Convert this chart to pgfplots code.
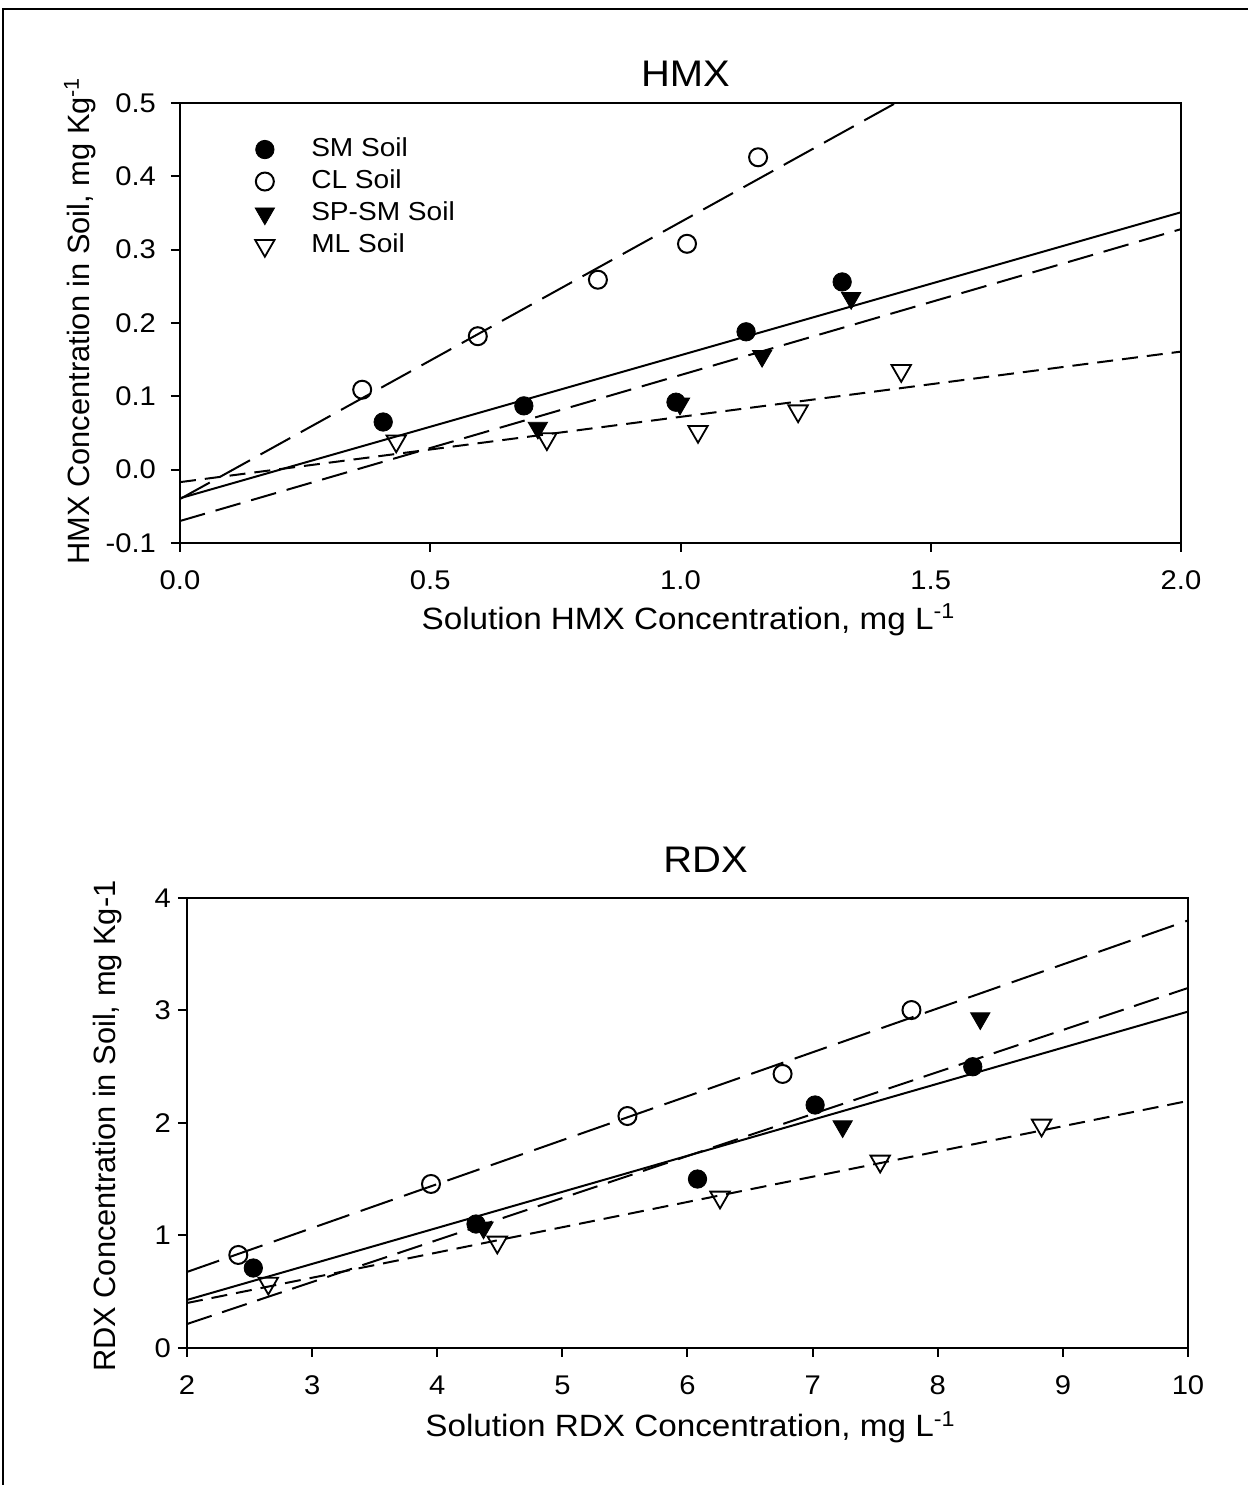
\documentclass[border=0pt]{standalone}
\usepackage{fontspec}
\setmainfont[FakeStretch=1.08]{Liberation Sans}
\newfontfamily\yfont{Liberation Sans}
\usepackage{pgfplots}
\pgfplotsset{compat=1.18}

\pgfplotsset{
  base/.style={
    scale only axis,
    width=500.5pt,
    axis line style={line width=1pt},
    tick style={line width=1pt,black},
    tick align=outside,
    major tick length=4.5pt,
    xtick pos=bottom, ytick pos=left,
    /pgf/number format/assume math mode=true,
    ticklabel style={font=\fontsize{13.5}{16}\selectfont},
    xlabel style={font=\fontsize{15.4}{18}\selectfont, anchor=center},
    ylabel style={font=\yfont\fontsize{15.4}{18}\selectfont, anchor=center},
    title style={font=\fontsize{18.5}{21}\selectfont, anchor=center},
    clip=true,
  },
  smline/.style={black, line width=1pt, forget plot},
  clline/.style={black, line width=1pt, dash pattern=on 17pt off 6pt, forget plot},
  spline/.style={black, line width=1pt, dash pattern=on 13pt off 5.5pt, forget plot},
  mlline/.style={black, line width=1pt, dash pattern=on 8pt off 4.5pt, forget plot},
  smm/.style={only marks, mark=*, mark size=4.6pt, mark options={fill=black, draw=black}},
  clm/.style={only marks, mark=o, mark size=4.5pt, mark options={fill=white, draw=black, line width=1pt}},
  spm/.style={only marks, mark=triangle*, mark size=5.6pt, mark options={fill=black, draw=black, rotate=180}},
  mlm/.style={only marks, mark=triangle, mark size=5.6pt, mark options={fill=white, draw=black, line width=0.9pt, rotate=180}},
}

\begin{document}
\begin{tikzpicture}
\useasboundingbox (0pt,0pt) rectangle (624pt,742.5pt);
\draw[line width=1pt] (1.5pt,0pt) -- (1.5pt,738pt) -- (624pt,738pt);

% ---------------- HMX ----------------
\begin{axis}[base,
  at={(90pt,471pt)}, anchor=south west,
  height=220pt,
  xmin=0, xmax=2, ymin=-0.1, ymax=0.5,
  xtick={0,0.5,1,1.5,2},
  ytick={-0.1,0,0.1,0.2,0.3,0.4,0.5},
  xticklabel style={/pgf/number format/fixed, /pgf/number format/fixed zerofill, /pgf/number format/precision=1, yshift=-6pt},
  yticklabel style={/pgf/number format/fixed, /pgf/number format/fixed zerofill, /pgf/number format/precision=1, xshift=-4pt},
  title={HMX},
  title style={at={(axis description cs:0.505,1.066)}, anchor=center, yshift=-6pt},
  xlabel={Solution HMX Concentration, mg L\textsuperscript{-1}},
  xlabel style={at={(axis description cs:0.508,-0.175)}},
  ylabel={HMX Concentration in Soil, mg Kg\textsuperscript{-1}},
  ylabel style={at={(axis description cs:-0.1,0.505)}},
  legend cell align=left,
  legend image code/.code={\path (0pt,0pt) (31pt,0pt); \draw[#1] plot coordinates {(9pt,0pt)};},
  legend style={at={(rel axis cs:0.066,0.927)}, anchor=north west, draw=none, fill=none,
    inner sep=0pt, row sep=2pt, font=\fontsize{13}{15}\selectfont,
    nodes={inner sep=1pt, text height=9.5pt, text depth=2.5pt}},
]
\addplot[smline] coordinates {(0,-0.039) (2,0.351)};
\addplot[clline] coordinates {(0,-0.040) (1.43,0.5)};
\addplot[spline] coordinates {(0,-0.070) (2,0.328)};
\addplot[mlline] coordinates {(0,-0.017) (2,0.161)};

\addplot[smm] coordinates {(0.406,0.065) (0.687,0.087) (0.991,0.092) (1.131,0.188) (1.323,0.256)};
\addlegendentry{SM Soil}
\addplot[clm] coordinates {(0.364,0.109) (0.595,0.182) (0.835,0.259) (1.013,0.308) (1.155,0.426)};
\addlegendentry{CL Soil}
\addplot[spm] coordinates {(0.715,0.057) (0.999,0.090) (1.163,0.155) (1.341,0.234)};
\addlegendentry{SP-SM Soil}
\addplot[mlm] coordinates {(0.432,0.039) (0.733,0.042) (1.035,0.052) (1.235,0.080) (1.441,0.135)};
\addlegendentry{ML Soil}
\end{axis}

% ---------------- RDX ----------------
\begin{axis}[base,
  at={(93.5pt,68.5pt)}, anchor=south west,
  height=225pt,
  xmin=2, xmax=10, ymin=0, ymax=4,
  xtick={2,3,4,5,6,7,8,9,10},
  ytick={0,1,2,3,4},
  xticklabel style={yshift=-6pt},
  yticklabel style={xshift=0pt},
  title={RDX},
  title style={at={(axis description cs:0.518,1.084)}, anchor=center, yshift=-6pt},
  xlabel={Solution RDX Concentration, mg L\textsuperscript{-1}},
  xlabel style={at={(axis description cs:0.503,-0.176)}},
  ylabel={RDX Concentration in Soil, mg Kg-1},
  ylabel style={at={(axis description cs:-0.079,0.493)}},
]
\addplot[smline] coordinates {(2,0.427) (10,2.99)};
\addplot[clline] coordinates {(2,0.676) (10,3.80)};
\addplot[spline] coordinates {(2,0.213) (10,3.20)};
\addplot[mlline] coordinates {(2,0.40) (10,2.196)};

\addplot[smm] coordinates {(2.53,0.711) (4.31,1.102) (6.08,1.502) (7.02,2.16) (8.28,2.50)};
\addplot[clm] coordinates {(2.41,0.827) (3.95,1.458) (5.52,2.062) (6.76,2.436) (7.79,3.004)};
\addplot[spm] coordinates {(4.37,1.07) (7.24,1.97) (8.34,2.93)};
\addplot[mlm] coordinates {(2.65,0.575) (4.48,0.94) (6.26,1.34) (7.54,1.66) (8.83,1.98)};
\end{axis}
\end{tikzpicture}
\end{document}
